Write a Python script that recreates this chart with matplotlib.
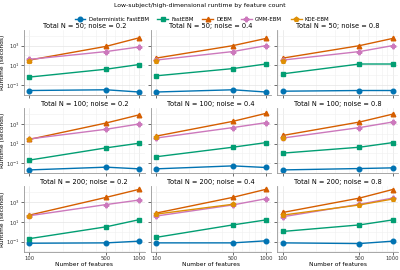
import numpy as np
import matplotlib
matplotlib.use("Agg")
import matplotlib.pyplot as plt
from matplotlib.ticker import FixedLocator, NullFormatter, LogLocator

nan = np.nan

FEATURES = [100, 500, 1000]
TOTAL_N = [50, 100, 200]
NOISE = [0.2, 0.4, 0.8]
METHODS = ["Deterministic FastEBM", "FastEBM", "DEBM", "GMM-EBM", "KDE-EBM"]
COLOURS = ["#0173b2", "#029e73", "#d55e00", "#cc78bc", "#de8f05"]
MARKERS = ["o", "s", "^", "P", "p"]

# runtime in seconds, [row N][col noise] -> [100, 500, 1000] features
det_fastebm = [
    [[0.027, 0.032, 0.019], [0.019, 0.032, 0.019], [0.023, 0.027, 0.027]],
    [[0.021, 0.040, 0.027], [0.027, 0.054, 0.037], [0.021, 0.029, 0.034]],
    [[0.068, 0.074, 0.110], [0.074, 0.074, 0.120], [0.074, 0.063, 0.110]],
]
fastebm = [
    [[0.63, 4.0, 12.0], [0.85, 4.6, 13.5], [1.35, 13.5, 13.5]],
    [[0.21, 3.7, 11.0], [0.46, 4.3, 12.6], [1.08, 4.3, 12.6]],
    [[0.20, 3.2, 17.0], [0.27, 5.0, 16.0], [1.08, 5.0, 16.0]],
]
debm = [
    [[34, 850, 6300], [54, 1000, 5400], [54, 1000, 5400]],
    [[27, 1260, 8500], [58, 1850, 12000], [68, 1580, 10000]],
    [[50, 3200, 21000], [80, 3200, 21000], [93, 2700, 20000]],
]
gmm_ebm = [
    [[40, 250, 740], [34, 250, 1000], [34, 250, 1000]],
    [[30, 290, 1000], [37, 430, 1350], [37, 430, 1580]],
    [[43, 590, 1700], [40, 540, 2300], [34, 630, 2700]],
]
kde_ebm = [
    [[27, nan, nan], [30, nan, nan], [27, nan, nan]],
    [[28, nan, nan], [46, nan, nan], [40, nan, nan]],
    [[42, nan, nan], [63, 630, nan], [50, 540, 2150]],
]
SERIES = [det_fastebm, fastebm, debm, gmm_ebm, kde_ebm]

fig, axes = plt.subplots(3, 3, figsize=(4, 2.7), dpi=100, sharex=True, sharey=True)
fig.subplots_adjust(left=0.06, right=0.995, top=0.89, bottom=0.068, wspace=0.05, hspace=0.2)

for r, n in enumerate(TOTAL_N):
    for c, noise in enumerate(NOISE):
        ax = axes[r, c]
        for name, data, col, mk in zip(METHODS, SERIES, COLOURS, MARKERS):
            ax.plot(FEATURES, data[r][c], color=col, marker=mk, markersize=3.3,
                    linewidth=1.0, label=name)
        ax.set_xscale("log")
        ax.set_yscale("log")
        ax.set_title(f"Total N = {n}; noise = {noise}", fontsize=4.8, pad=1.5)
        ax.grid(True, which="major", color="#e4e4e4", linewidth=0.5)
        ax.grid(True, which="minor", color="#f0f0f0", linewidth=0.4)
        ax.set_axisbelow(True)
        for side in ["top", "right"]:
            ax.spines[side].set_visible(False)
        for side in ["left", "bottom"]:
            ax.spines[side].set_color("#999999")
            ax.spines[side].set_linewidth(0.6)
        ax.tick_params(labelsize=3.8, length=2, width=0.5, pad=1, colors="#333333")
        ax.tick_params(which="minor", length=0)

ax0 = axes[0, 0]
ax0.xaxis.set_major_locator(FixedLocator(FEATURES))
ax0.xaxis.set_minor_locator(LogLocator(base=10, subs=np.arange(2, 10)))
ax0.xaxis.set_minor_formatter(NullFormatter())
ax0.set_xticklabels([str(f) for f in FEATURES])
ax0.yaxis.set_major_locator(FixedLocator([1e-1, 1e1, 1e3]))
ax0.yaxis.set_minor_locator(FixedLocator([1e-2, 1e0, 1e2, 1e4]))
ax0.yaxis.set_minor_formatter(NullFormatter())

for r in range(3):
    axes[r, 0].set_ylabel("Runtime (seconds)", fontsize=4.2)
    axes[r, 0].yaxis.set_label_coords(-0.155, 0.5)
for c in range(3):
    axes[2, c].set_xlabel("Number of features", fontsize=4.2, labelpad=1)

handles, labels = ax0.get_legend_handles_labels()
fig.legend(handles, labels, loc="upper center", bbox_to_anchor=(0.505, 0.955), ncol=5,
           frameon=False, fontsize=3.9, handlelength=2.0, columnspacing=1.6,
           handletextpad=0.6)
fig.suptitle("Low-subject/high-dimensional runtime by feature count", fontsize=4.4, y=0.99)

fig.savefig("out.png", dpi=100)
